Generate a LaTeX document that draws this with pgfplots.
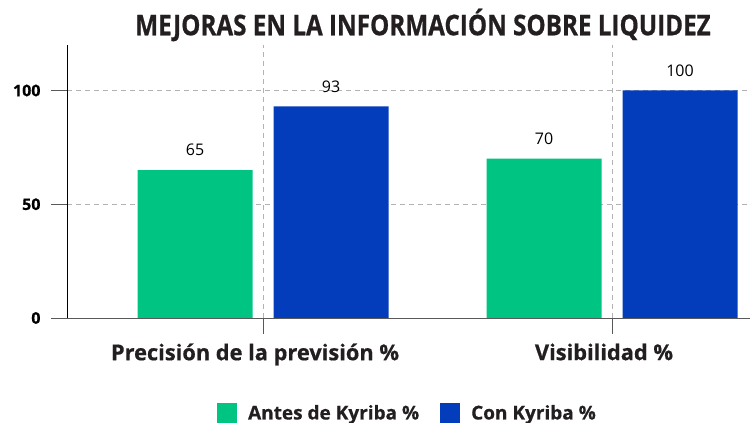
\documentclass[border=0pt]{standalone}
\usepackage{pgfplots}
\pgfplotsset{compat=1.18}
\usepackage{fontspec}
\setmainfont{Open Sans}
\newfontfamily\titlefont{Open Sans}[FakeStretch=0.85, FakeBold=0.6]
\newfontfamily\heavy{Open Sans}[FakeBold=0.6]
\definecolor{kgreen}{RGB}{0,196,130}
\definecolor{kblue}{RGB}{3,61,187}
\definecolor{kgrid}{RGB}{178,178,178}
\definecolor{ktext}{RGB}{35,31,32}
\begin{document}
\begin{tikzpicture}[x=1pt,y=1pt]
\begin{axis}[
  at={(67pt,105pt)}, anchor=south west,
  scale only axis, width=683pt, height=273pt,
  xmin=-0.5616, xmax=1.3954, ymin=0, ymax=120,
  axis x line=bottom, axis y line=left,
  axis line style={-},
  x axis line style={draw=black!65, line width=0.9pt},
  y axis line style={draw=black, line width=0.7pt},
  xtick={0,1}, xticklabels={Precisión de la previsión \%, Visibilidad \%},
  ytick={0,50,100},
  tick align=outside, major tick length=16pt,
  tick style={draw=black!65, line width=0.9pt},
  xmajorgrids, ymajorgrids,
  grid style={draw=kgrid, dashed, dash pattern=on 5pt off 4pt, line width=0.7pt},
  xticklabel style={font=\heavy\fontsize{21.8}{24}\selectfont\bfseries, text=ktext, yshift=-6pt, xshift=-8pt},
  yticklabel style={font=\heavy\fontsize{16}{19}\selectfont\bfseries, text=black, xshift=-7pt},
  /pgf/number format/assume math mode=true,
  ybar, bar width=115pt,
  nodes near coords,
  every node near coord/.append style={font=\fontsize{16}{19}\selectfont, text=black, anchor=center, yshift=20pt},
  legend columns=2,
  legend style={at={(0.4985,-0.348)}, anchor=center, draw=none, fill=none,
    font=\heavy\fontsize{19}{22}\selectfont\bfseries, text=ktext,
    /tikz/every odd column/.append style={column sep=9pt},
    /tikz/every even column/.append style={column sep=19pt}},
  legend image code/.code={\fill[#1] (0pt,-10pt) rectangle (20pt,10pt);},
]
\addplot[fill=kgreen, draw=none, bar shift=-68pt] coordinates {(0,65) (1,70)};
\addplot[fill=kblue, draw=none, bar shift=68pt] coordinates {(0,93) (1,100)};
\legend{Antes de Kyriba \%, Con Kyriba \%}
\end{axis}
\node[font=\titlefont\fontsize{28.5}{32}\selectfont\bfseries, text=ktext] at (423pt,398pt) {MEJORAS EN LA INFORMACIÓN SOBRE LIQUIDEZ};
\pgfresetboundingbox
\path[use as bounding box] (0,0) rectangle (750pt,423pt);
\end{tikzpicture}
\end{document}
